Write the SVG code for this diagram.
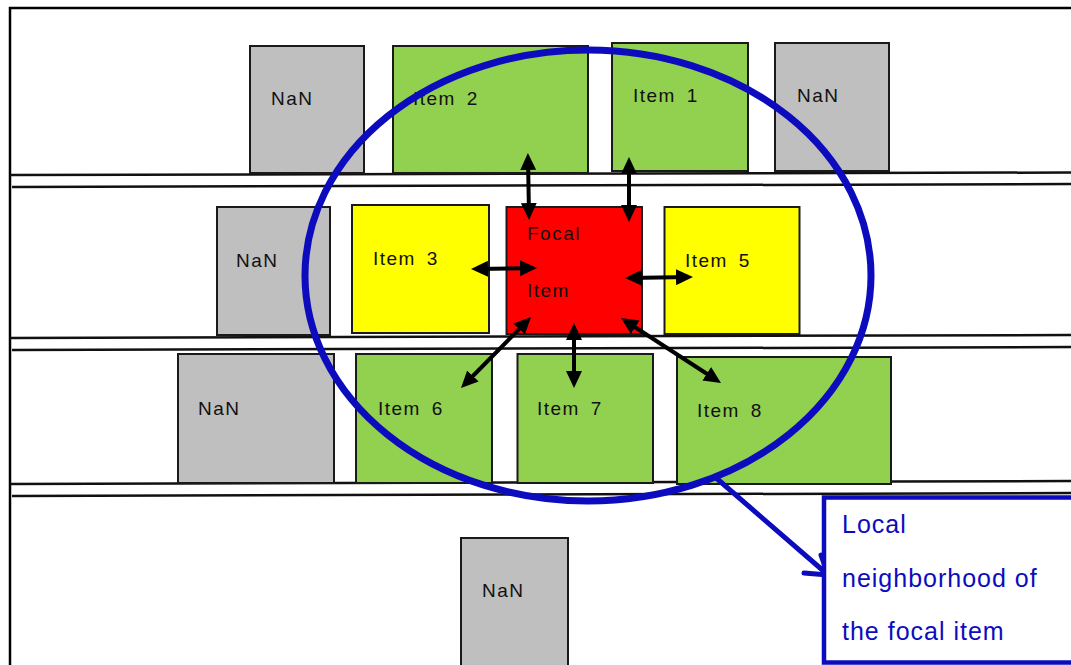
<svg xmlns="http://www.w3.org/2000/svg" width="1071" height="665" viewBox="0 0 1071 665">
  <style>
    .frame { stroke: #000; stroke-width: 2.5; fill: none; }
    .row { stroke: #111; stroke-width: 2.5; fill: none; }
    .cell { stroke: #1a1a1a; stroke-width: 2; }
    .nan { fill: #BFBFBF; }
    .green { fill: #92D050; }
    .yellow { fill: #FFFF00; }
    .red { fill: #FF0000; }
    .lbl { font-family: "Liberation Sans", Arial, sans-serif; font-size: 19px; letter-spacing: 1.5px; word-spacing: 4px; fill: #111; }
    .link { stroke: #000; stroke-width: 4; fill: none; marker-start: url(#head); marker-end: url(#head); }
    .hood { stroke: #0C0CBE; stroke-width: 7; fill: none; }
    .pointer { stroke: #0C0CBE; stroke-width: 5; fill: none; stroke-linejoin: round; stroke-linecap: round; }
    .note { fill: #fff; stroke: #0C0CBE; stroke-width: 4.5; }
    .noteText { font-family: "Liberation Sans", Arial, sans-serif; font-size: 25px; letter-spacing: 1px; fill: #0C0CBE; }
  </style>
  <defs>
    <marker id="head" markerUnits="userSpaceOnUse" markerWidth="18" markerHeight="16" refX="12" refY="8" orient="auto-start-reverse" viewBox="0 0 18 16">
      <path d="M0,0 L17,8 L0,16 Z" fill="#000"/>
    </marker>
  </defs>

  <rect width="1071" height="665" fill="#fff"/>

  <!-- page frame and row bands -->
  <g id="frame">
    <path class="frame" d="M10,665 V8 H1071"/>
    <line class="row" x1="10" y1="175" x2="1071" y2="172.5"/>
    <line class="row" x1="12" y1="187" x2="1071" y2="184"/>
    <line class="row" x1="10" y1="338" x2="1071" y2="335"/>
    <line class="row" x1="12" y1="350" x2="1071" y2="347"/>
    <line class="row" x1="10" y1="484" x2="1071" y2="481"/>
    <line class="row" x1="12" y1="496" x2="1071" y2="493"/>
  </g>

  <!-- row 1 -->
  <g id="nan-r1a"><rect class="cell nan" x="250" y="46" width="114" height="127"/><text class="lbl" x="271" y="105">NaN</text></g>
  <g id="item2"><rect class="cell green" x="393" y="46" width="195" height="127"/><text class="lbl" x="413" y="105">Item 2</text></g>
  <g id="item1"><rect class="cell green" x="612" y="43" width="136" height="128"/><text class="lbl" x="633" y="102">Item 1</text></g>
  <g id="nan-r1b"><rect class="cell nan" x="775" y="43" width="114" height="128"/><text class="lbl" x="797" y="102">NaN</text></g>

  <!-- row 2 -->
  <g id="nan-r2"><rect class="cell nan" x="217" y="207" width="113" height="128"/><text class="lbl" x="236" y="267">NaN</text></g>
  <g id="item3"><rect class="cell yellow" x="352" y="205" width="137" height="128"/><text class="lbl" x="373" y="265">Item 3</text></g>
  <g id="focal"><rect class="cell red" x="506.5" y="207" width="135.5" height="127"/><text class="lbl" x="527" y="240">Focal</text><text class="lbl" x="527" y="297">Item</text></g>
  <g id="item5"><rect class="cell yellow" x="664.5" y="207" width="135" height="127"/><text class="lbl" x="685" y="267">Item 5</text></g>

  <!-- row 3 -->
  <g id="nan-r3"><rect class="cell nan" x="178" y="354" width="156" height="129"/><text class="lbl" x="198" y="415">NaN</text></g>
  <g id="item6"><rect class="cell green" x="356" y="354" width="136" height="129"/><text class="lbl" x="378" y="415">Item 6</text></g>
  <g id="item7"><rect class="cell green" x="517.5" y="354" width="135.5" height="129"/><text class="lbl" x="537" y="415">Item 7</text></g>
  <g id="item8"><rect class="cell green" x="677" y="357" width="214" height="127"/><text class="lbl" x="697" y="417">Item 8</text></g>

  <!-- row 4 -->
  <g id="nan-r4"><rect class="cell nan" x="461" y="538" width="107" height="140"/><text class="lbl" x="482" y="597">NaN</text></g>

  <!-- links between the focal item and its neighbours -->
  <g id="links">
    <line class="link" x1="528" y1="158" x2="529" y2="215"/>
    <line class="link" x1="629" y1="162" x2="629" y2="217"/>
    <line class="link" x1="476" y1="269" x2="532" y2="268"/>
    <line class="link" x1="630" y1="278" x2="688" y2="277"/>
    <line class="link" x1="527.5" y1="320.5" x2="464.5" y2="384.5"/>
    <line class="link" x1="574" y1="328" x2="574" y2="383"/>
    <line class="link" x1="625.2" y1="320.7" x2="716.8" y2="380.3"/>
  </g>

  <!-- neighbourhood outline and its callout -->
  <g id="neighborhood">
    <ellipse class="hood" cx="588" cy="275.5" rx="283" ry="225.5"/>
  </g>
  <g id="callout-pointer">
    <line class="pointer" x1="715" y1="477" x2="827" y2="574"/>
    <polyline class="pointer" points="804,573 828,575 821,555"/>
  </g>
  <g id="callout">
    <rect class="note" x="824" y="497.5" width="260" height="165"/>
    <text class="noteText" x="842" y="533">Local</text>
    <text class="noteText" x="842" y="587">neighborhood of</text>
    <text class="noteText" x="842" y="640">the focal item</text>
  </g>
</svg>
